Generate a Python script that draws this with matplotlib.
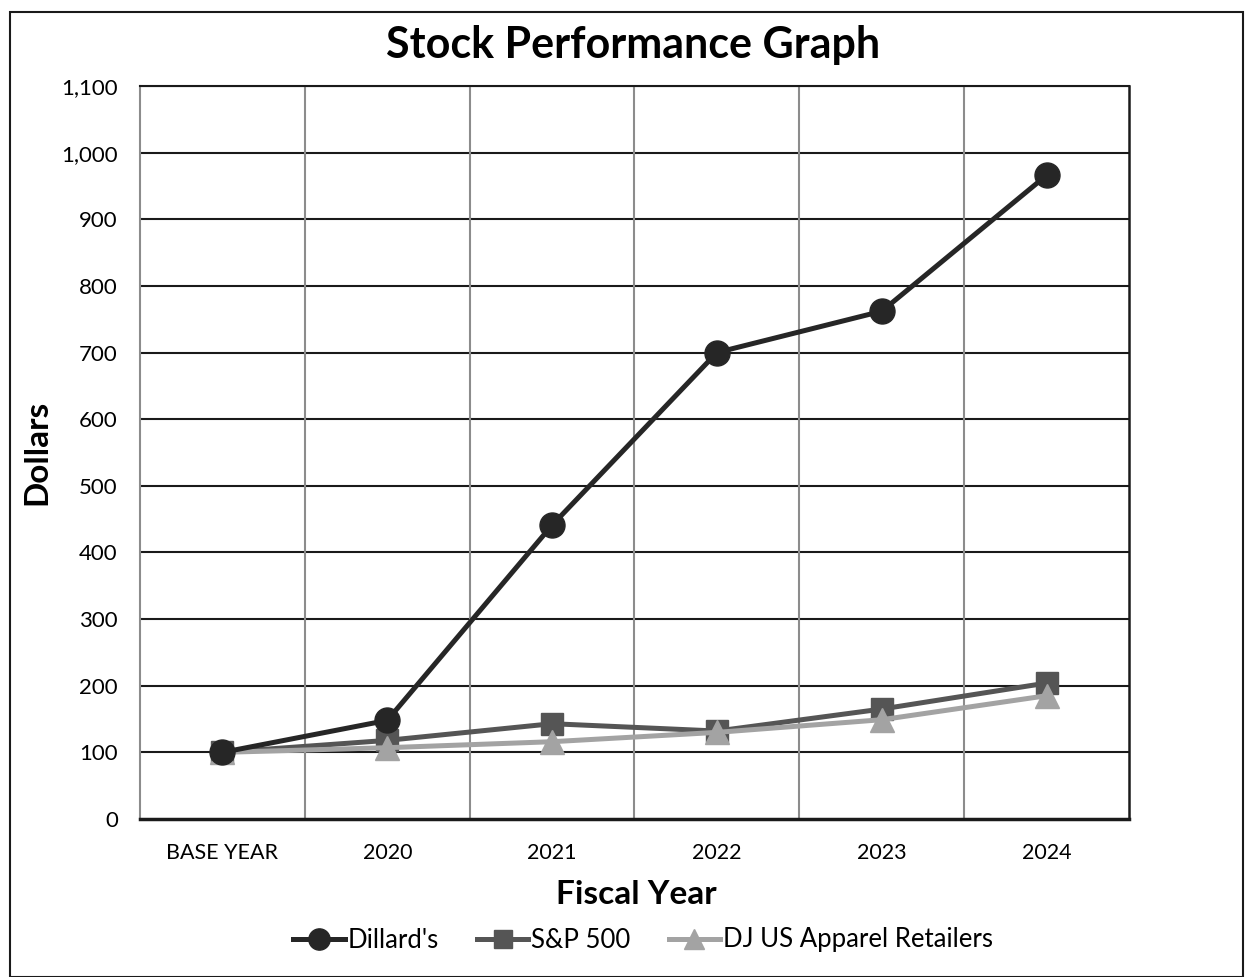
import matplotlib
matplotlib.use("Agg")
import matplotlib.pyplot as plt
from matplotlib.patches import Rectangle

categories = ["BASE YEAR", "2020", "2021", "2022", "2023", "2024"]
dillards = [100, 148, 441, 700, 762, 966]
sp500 = [100, 118, 143, 132, 165, 204]
dj_apparel = [100, 107, 116, 130, 149, 185]
yticks = list(range(0, 1101, 100))

plt.rcParams['font.family'] = ['Lato', 'DejaVu Sans']

fig = plt.figure(figsize=(12.45, 9.77), dpi=100)
ax = fig.add_axes([140/1245, 1-819/977, (1129-140)/1245, (819-86)/977])

x = list(range(len(categories)))
ax.plot(x, dillards, color="#262626", lw=3.6, marker="o", ms=18, label="Dillard's", zorder=5)
ax.plot(x, sp500, color="#555555", lw=3.6, marker="s", ms=16, label="S&P 500", zorder=4)
ax.plot(x, dj_apparel, color="#a3a3a3", lw=3.6, marker="^", ms=17, label="DJ US Apparel Retailers", zorder=4)

ax.set_xlim(-0.5, 5.5)
ax.set_ylim(0, 1100)
ax.set_yticks(yticks)
ax.set_yticklabels([f"{v:,}" for v in yticks], fontsize=16)
ax.set_xticks(x)
ax.set_xticklabels(categories, fontsize=15.5)
ax.tick_params(axis='y', length=0, pad=16)
ax.tick_params(axis='x', length=0, pad=17)

for yv in yticks[1:]:
    ax.axhline(yv, color="#1a1a1a", lw=1.5, zorder=1)
for xv in [0.5, 1.5, 2.5, 3.5, 4.5]:
    ax.axvline(xv, color="#8c8c8c", lw=1.5, zorder=1)

ax.spines['left'].set_color("#8c8c8c")
ax.spines['left'].set_linewidth(1.5)
ax.spines['bottom'].set_color("#1a1a1a")
ax.spines['bottom'].set_linewidth(2.5)
ax.spines['right'].set_color("#1a1a1a")
ax.spines['right'].set_linewidth(1.8)
ax.spines['top'].set_color("#1a1a1a")
ax.spines['top'].set_linewidth(1.5)

fig.text(633/1245, 1-45/977, "Stock Performance Graph", ha="center", va="center", fontsize=31, fontweight="bold")
fig.text(636/1245, 1-895/977, "Fiscal Year", ha="center", va="center", fontsize=24, fontweight="bold")
fig.text(37/1245, 1-452/977, "Dollars", ha="center", va="center", fontsize=24, fontweight="bold", rotation=90)

leg = fig.legend(loc="center", bbox_to_anchor=(643/1245, 1-940/977), ncol=3, frameon=False,
                 fontsize=18.5, handlelength=2.0, columnspacing=1.5, handletextpad=0.1,
                 markerscale=0.85)

fig.patches.append(Rectangle((10/1245, 0), (1243-10)/1245, (977-12)/977, transform=fig.transFigure,
                             fill=False, edgecolor="#1a1a1a", lw=1.5))

fig.savefig("out.png", dpi=100)
